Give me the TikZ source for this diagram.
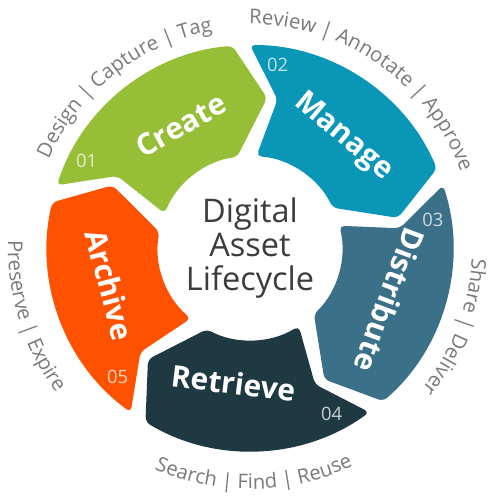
\documentclass[tikz,border=0pt]{standalone}
\usepackage{fontspec}
\setmainfont{Open Sans}
\usepackage{tikz}
\usetikzlibrary{decorations.text}

\definecolor{createcol}{HTML}{97BE37}
\definecolor{managecol}{HTML}{0A96B7}
\definecolor{distribcol}{HTML}{3B7089}
\definecolor{retrievecol}{HTML}{1E3941}
\definecolor{archivecol}{HTML}{FF5200}
\definecolor{labelgray}{HTML}{7A7A7A}
\definecolor{titlegray}{HTML}{3C3C3C}

\begin{document}
\begin{tikzpicture}[
  stage label/.style={text=white, font=\bfseries\fontsize{17}{20}\selectfont},
  stage number/.style={font=\fontsize{10.5}{12}\selectfont},
  outer label/.style={decorate, decoration={text along path, text align=center,
    text format delimiters={[}{]}}}
  ]
\def\rout{4.06}
\def\rin{1.84}
\def\rmid{3.02}

\useasboundingbox[fill=white] (-5,-5.04) rectangle (5,4.96);

% ring of five stages, each with a tip at the front and a notch at the back
\foreach \col [count=\k from 0] in {createcol,managecol,distribcol,retrievecol,archivecol} {
  \pgfmathsetmacro\a{158-72*\k}
  \pgfmathsetmacro\b{\a-72}
  \fill[\col, rounded corners=3pt]
    ({\a+4}:\rout) arc[start angle=\a+4, end angle=\b+9, radius=\rout]
    -- ({\b-2.5}:\rmid) -- ({\b+12}:\rin)
    arc[start angle=\b+12, end angle=\a, radius=\rin]
    -- ({\a-6.5}:\rmid) -- cycle;
}

\foreach \t/\ang/\r/\rot [count=\k] in {Create/119.3/2.82/29.3, Manage/50/2.9/-40,
    Distribute/-20.4/2.98/-110.4, Retrieve/-97/2.72/-7, Archive/194.8/2.9/-75.2}
  \node[stage label, rotate=\rot] (stage-\k) at (\ang:\r) {\t};

\foreach \n/\ang/\col [count=\k] in {01/152/createcol, 02/81.4/managecol,
    03/8.7/distribcol, 04/-63.8/retrievecol, 05/-135.7/archivecol}
  \node[stage number, text=\col!25!white] (num-\k) at (\ang:3.7) {\n};

\node[align=center, text=titlegray, font=\fontsize{18.5}{19.5}\selectfont] (title) at (0,0)
  {Digital\\Asset\\Lifecycle};

% outer captions
\path[outer label, decoration={text={[\color{labelgray}\fontsize{11.5}{14}\selectfont]Design | Capture | Tag}}]
  (168:4.4) arc[start angle=168, end angle=88, radius=4.4];
\path[outer label, decoration={text={[\color{labelgray}\fontsize{11.5}{14}\selectfont]Review | Annotate | Approve}}]
  (100:4.48) arc[start angle=100, end angle=10, radius=4.48];
\path[outer label, decoration={text={[\color{labelgray}\fontsize{11.5}{14}\selectfont]Share | Deliver}}]
  (20:4.44) arc[start angle=20, end angle=-62, radius=4.44];
\path[outer label, decoration={text={[\color{labelgray}\fontsize{11.5}{14}\selectfont]Search | Find | Reuse}}]
  (-130:4.82) arc[start angle=-130, end angle=-48, radius=4.82];
\path[outer label, decoration={text={[\color{labelgray}\fontsize{11.5}{14}\selectfont]Preserve | Expire}}]
  (157.5:4.84) arc[start angle=157.5, end angle=237.5, radius=4.84];
\end{tikzpicture}
\end{document}
